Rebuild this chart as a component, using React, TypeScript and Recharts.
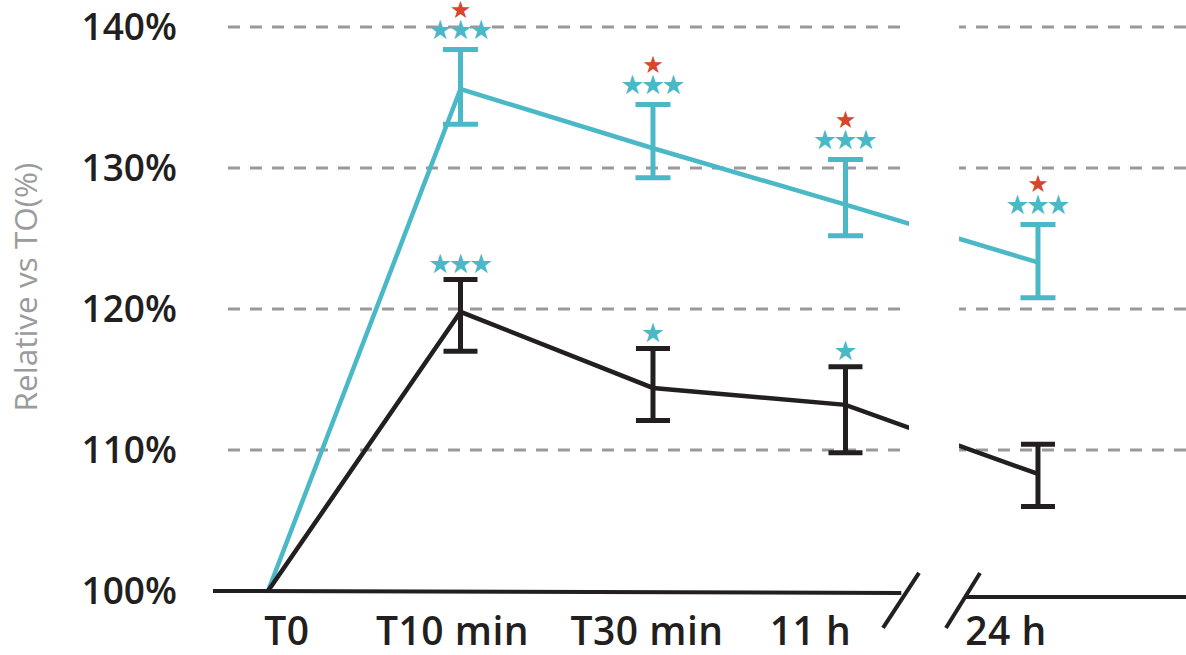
import {
  ComposedChart,
  Line,
  ErrorBar,
  XAxis,
  YAxis,
  ReferenceLine,
  ReferenceArea,
} from "recharts";

const categories = ["T0", "T10 min", "T30 min", "11 h", "24 h"];
const cyanMean = [100, 135.6, 131.4, 127.4, 123.3];
const cyanLow = [null, 133.1, 129.3, 125.2, 120.8];
const cyanHigh = [null, 138.4, 134.5, 130.6, 126.0];
const blackMean = [100, 119.8, 114.4, 113.2, 108.3];
const blackLow = [null, 117.0, 112.1, 109.8, 106.0];
const blackHigh = [null, 122.1, 117.2, 115.9, 110.4];
// significance stars above each error bar
const cyanStars = [0, 3, 3, 3, 3];
const redStars = [0, 1, 1, 1, 1];
const blackStars = [0, 3, 1, 1, 0];
const yTicks = [100, 110, 120, 130, 140];
const gridValues = [110, 120, 130, 140];

const CYAN = "#4bb8c7";
const RED = "#d8452a";
const DARK = "#231f20";
const GRAY = "#999999";
const FONT = "'Open Sans', sans-serif";

const X_MIN = -0.2857;
const X_MAX = 4.769;
const tickShift = [19, -8, -6, -35, -32];

const data = categories.map((c, i) => ({
  x: i,
  cyan: cyanMean[i],
  cyanErr: cyanLow[i] == null ? undefined : [cyanMean[i] - cyanLow[i]!, cyanHigh[i]! - cyanMean[i]],
  cyanHi: cyanHigh[i] ?? undefined,
  black: blackMean[i],
  blackErr: blackLow[i] == null ? undefined : [blackMean[i] - blackLow[i]!, blackHigh[i]! - blackMean[i]],
  blackHi: blackHigh[i] ?? undefined,
}));

const starRow = (cx: number, cy: number, n: number, color: string, size: number, key: string) =>
  Array.from({ length: n }, (_, k) => (
    <text
      key={key + k}
      x={cx + (k - (n - 1) / 2) * 20.5}
      y={cy}
      textAnchor="middle"
      dominantBaseline="central"
      fill={color}
      fontSize={size}
      fontFamily="'DejaVu Sans', sans-serif"
    >
      ★
    </text>
  ));

const CyanStarDot = (props: any) => {
  const { cx, cy, index } = props;
  if (cy == null || isNaN(cy)) return <g key={"cs" + index} />;
  return (
    <g key={"cs" + index}>
      {starRow(cx, cy - 20, cyanStars[index], CYAN, 27, "c")}
      {starRow(cx, cy - 40, redStars[index], RED, 24, "r")}
    </g>
  );
};

const BlackStarDot = (props: any) => {
  const { cx, cy, index } = props;
  if (cy == null || isNaN(cy)) return <g key={"bs" + index} />;
  return <g key={"bs" + index}>{starRow(cx, cy - 16, blackStars[index], CYAN, 27, "b")}</g>;
};

const XTick = (props: any) => {
  const { x, y, payload, index } = props;
  return (
    <text
      x={x + tickShift[index]}
      y={y + 54}
      textAnchor="middle"
      fill={DARK}
      fontSize={39}
      fontWeight={600}
      letterSpacing={0.5}
      fontFamily={FONT}
    >
      {categories[payload.value]}
    </text>
  );
};

const YLabel = (props: any) => {
  const vb = props.viewBox || { x: 0, y: 27, height: 564 };
  const cx = vb.x + 24;
  const cy = vb.y + vb.height / 2 - 22;
  return (
    <text
      transform={`translate(${cx},${cy}) rotate(-90)`}
      textAnchor="middle"
      dominantBaseline="central"
      fill="#9b9b9b"
      fontSize={31.5}
      fontFamily={FONT}
    >
      Relative vs TO(%)
    </text>
  );
};

export default function App() {
  return (
    <div style={{ position: "absolute", left: 0, top: 0, background: "#fff" }}>
      <ComposedChart
        width={1186}
        height={655}
        data={data}
        margin={{ top: 27, right: 0, bottom: 0, left: 0 }}
      >
        <XAxis
          dataKey="x"
          type="number"
          domain={[X_MIN, X_MAX]}
          ticks={[0, 1, 2, 3, 4]}
          axisLine={false}
          tickLine={false}
          tickSize={0}
          tickMargin={0}
          height={64}
          tick={<XTick />}
        />
        <YAxis
          type="number"
          domain={[100, 140]}
          ticks={yTicks}
          width={213}
          axisLine={false}
          tickLine={false}
          tickSize={0}
          tickMargin={36}
          tickFormatter={(v: number) => `${v}%`}
          tick={{ fill: DARK, fontSize: 37, fontWeight: 600, fontFamily: FONT }}
          label={<YLabel />}
        />
        {gridValues.map((g) => (
          <ReferenceLine
            key={"g" + g}
            segment={[
              { x: -0.208, y: g },
              { x: X_MAX, y: g },
            ]}
            stroke={GRAY}
            strokeWidth={3}
            strokeDasharray="12 10"
          />
        ))}
        <Line
          dataKey="cyan"
          stroke={CYAN}
          strokeWidth={4.5}
          dot={false}
          activeDot={false}
          isAnimationActive={false}
        >
          <ErrorBar dataKey="cyanErr" width={17.5} strokeWidth={5} stroke={CYAN} />
        </Line>
        <Line
          dataKey="black"
          stroke={DARK}
          strokeWidth={4.5}
          dot={false}
          activeDot={false}
          isAnimationActive={false}
        >
          <ErrorBar dataKey="blackErr" width={17} strokeWidth={5} stroke={DARK} />
        </Line>
        {/* white band for the axis break */}
        <ReferenceArea
          x1={3.33}
          x2={3.59}
          y1={101.5}
          y2={141}
          fill="#ffffff"
          fillOpacity={1}
          stroke="none"
          ifOverflow="visible"
          zIndex={1500}
        />
        <ReferenceLine
          segment={[
            { x: X_MIN, y: 100 },
            { x: 3.29, y: 99.86 },
          ]}
          stroke={DARK}
          strokeWidth={4}
          ifOverflow="visible"
          zIndex={1600}
        />
        <ReferenceLine
          segment={[
            { x: 3.621, y: 99.57 },
            { x: X_MAX, y: 99.57 },
          ]}
          stroke={DARK}
          strokeWidth={4}
          ifOverflow="visible"
          zIndex={1600}
        />
        <ReferenceLine
          segment={[
            { x: 3.195, y: 97.38 },
            { x: 3.382, y: 101.28 },
          ]}
          stroke={DARK}
          strokeWidth={4}
          ifOverflow="visible"
          zIndex={1600}
        />
        <ReferenceLine
          segment={[
            { x: 3.522, y: 97.38 },
            { x: 3.699, y: 101.28 },
          ]}
          stroke={DARK}
          strokeWidth={4}
          ifOverflow="visible"
          zIndex={1600}
        />
        <Line
          dataKey="cyanHi"
          stroke="none"
          dot={<CyanStarDot />}
          activeDot={false}
          legendType="none"
          isAnimationActive={false}
        />
        <Line
          dataKey="blackHi"
          stroke="none"
          dot={<BlackStarDot />}
          activeDot={false}
          legendType="none"
          isAnimationActive={false}
        />
      </ComposedChart>
    </div>
  );
}
